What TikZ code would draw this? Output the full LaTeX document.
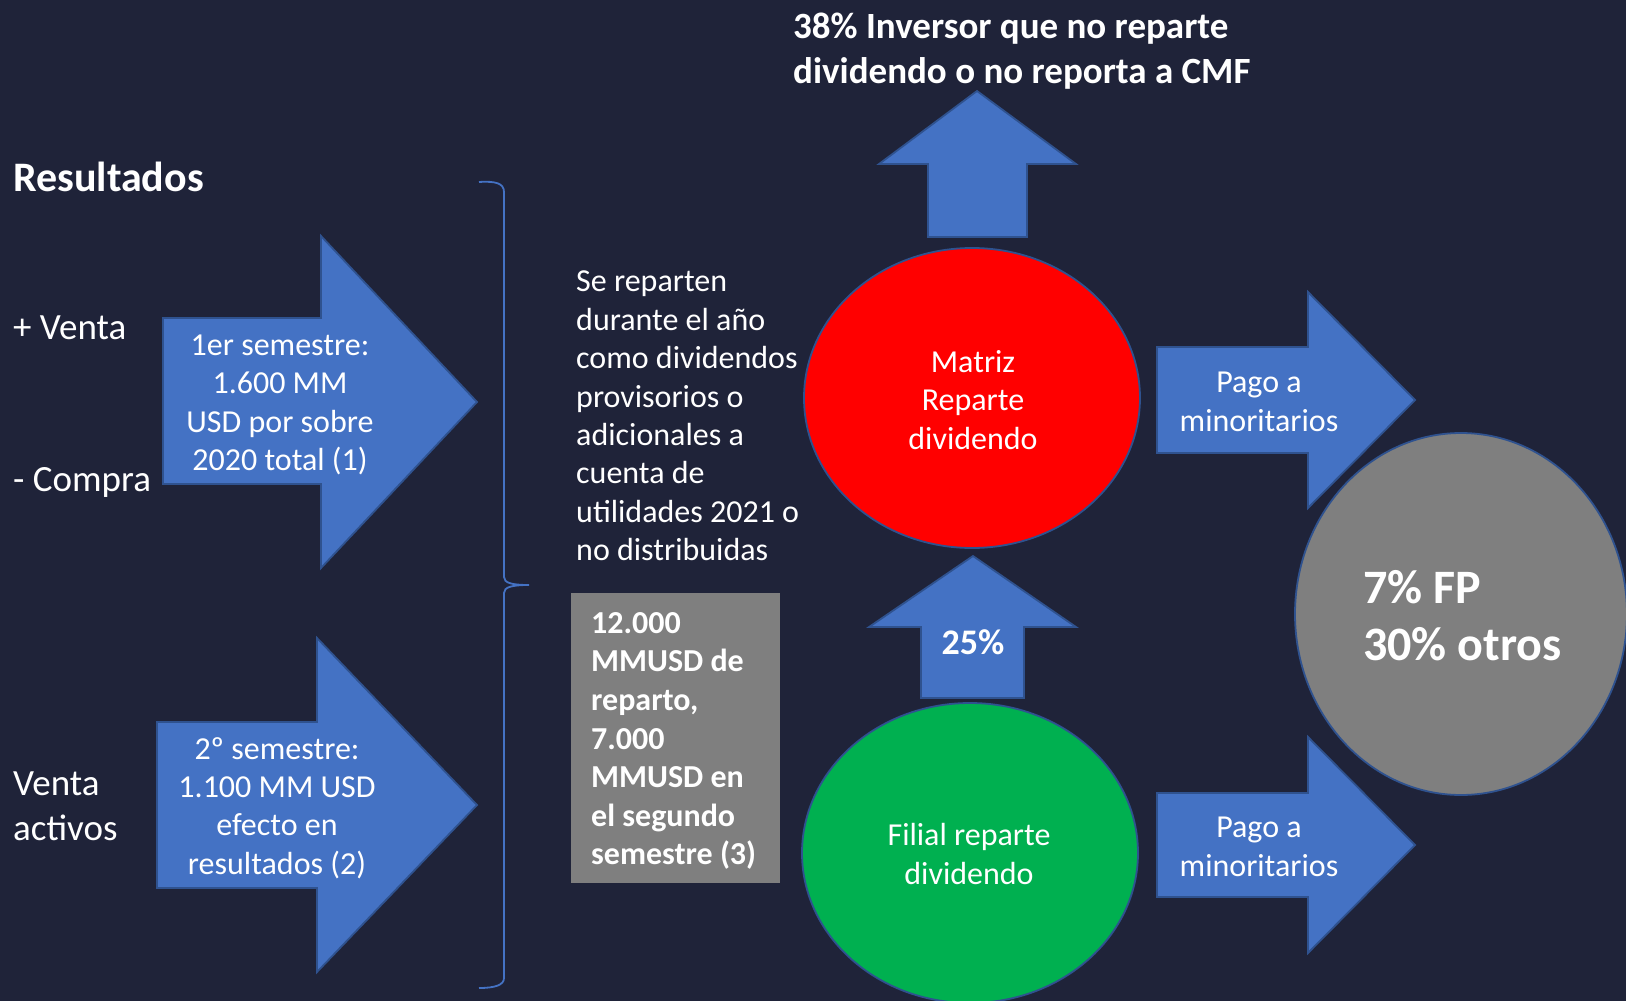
\documentclass[tikz,border=0pt]{standalone}
\usepackage{fontspec}
\setmainfont{Carlito}
\usetikzlibrary{shapes.geometric}
\definecolor{bgcol}{HTML}{1F2339}
\definecolor{arrowblue}{HTML}{4472C4}
\definecolor{edgeblue}{HTML}{2F528F}
\definecolor{boxgray}{HTML}{7F7F7F}
\definecolor{redfill}{HTML}{FF0000}
\definecolor{greenfill}{HTML}{00B050}
\tikzset{
  blockarrow/.style={fill=arrowblue, draw=edgeblue, line width=1.8pt, line join=miter},
  bubble/.style={ellipse, draw=edgeblue, line width=1.8pt, inner sep=0pt},
  txt/.style={text=white, inner sep=0pt, font=\fontsize{32}{38.4}\selectfont},
  txtb/.style={text=white, inner sep=0pt, font=\bfseries\fontsize{32}{38.6}\selectfont},
  sidelbl/.style={text=white, inner sep=0pt, font=\fontsize{37}{45}\selectfont},
}
\begin{document}
\begin{tikzpicture}[x=1pt,y=-1pt]
\useasboundingbox (0,0) rectangle (1626,1001);
\clip (0,0) rectangle (1626,1001);
\fill[bgcol] (0,0) rectangle (1626,1001);

% left labels
\node[anchor=base west, text=white, inner sep=0pt, font=\bfseries\fontsize{42}{50}\selectfont] (res) at (13,191) {Resultados};
\node[anchor=base west, sidelbl] (venta) at (13,339) {+ Venta};
\node[anchor=base west, sidelbl] (compra) at (13,491) {- Compra};
\node[anchor=west, sidelbl, align=left] (activos) at (13,806) {Venta\\activos};

% left block arrows
\draw[blockarrow] (163,318) -- (321,318) -- (321,236) -- (477,402) -- (321,568) -- (321,484) -- (163,484) -- cycle;
\node[txt, align=center] (sem1) at (280,405) {1er semestre:\\1.600 MM\\USD por sobre\\2020 total (1)};
\draw[blockarrow] (157,722) -- (317,722) -- (317,638) -- (477,805) -- (317,972) -- (317,888) -- (157,888) -- cycle;
\node[txt, align=center] (sem2) at (277,808) {2º semestre:\\1.100 MM USD\\efecto en\\resultados (2)};

% brace
\draw[arrowblue, line width=1.8pt] (479,182) .. controls (495,181) and (504,183) .. (504,192) -- (504,577)
  .. controls (504,583) and (512,585) .. (529,585)
  .. controls (512,585) and (504,587) .. (504,593) -- (504,978)
  .. controls (504,985) and (495,988) .. (479,988);

% middle texts
\node[txt, anchor=west, align=left] (reparten) at (576,416) {Se reparten\\durante el año\\como dividendos\\provisorios o\\adicionales a\\cuenta de\\utilidades 2021 o\\no distribuidas};
\fill[boxgray] (571,593) rectangle (780,883);
\node[txtb, anchor=west, align=left] (reparto) at (591,741) {12.000\\MMUSD de\\reparto,\\7.000\\MMUSD en\\el segundo\\semestre (3)};

% top arrow and title
\draw[blockarrow] (928,237) -- (928,164) -- (879,164) -- (977,91) -- (1076,164) -- (1027,164) -- (1027,237) -- cycle;
\node[anchor=west, text=white, inner sep=0pt, align=left, font=\bfseries\fontsize{37}{45}\selectfont] (inversor) at (793,51) {38\% Inversor que no reparte\\dividendo o no reporta a CMF};

% ellipses
\node[bubble, fill=redfill, minimum width=336pt, minimum height=300pt] (matriz) at (972,398) {};
\node[txt, align=center] (matriztxt) at (973,400) {Matriz\\Reparte\\dividendo};
\node[bubble, fill=greenfill, minimum width=336pt, minimum height=300pt] (filial) at (970,853) {};
\node[txt, align=center] (filialtxt) at (969,854) {Filial reparte\\dividendo};

% 25% arrow
\draw[blockarrow] (921,698) -- (921,627) -- (869,627) -- (973,556) -- (1076,627) -- (1024,627) -- (1024,698) -- cycle;
\node[text=white, inner sep=0pt, font=\bfseries\fontsize{36}{43}\selectfont] (pct) at (973,642) {25\%};

% right arrows
\draw[blockarrow] (1157,347) -- (1308,347) -- (1308,292) -- (1415,400) -- (1308,508) -- (1308,453) -- (1157,453) -- cycle;
\node[txt, align=center] (pago1) at (1259,402) {Pago a\\minoritarios};
\draw[blockarrow] (1157,793) -- (1308,793) -- (1308,737) -- (1415,845) -- (1308,953) -- (1308,897) -- (1157,897) -- cycle;
\node[txt, align=center] (pago2) at (1259,847) {Pago a\\minoritarios};

% gray circle
\node[bubble, fill=boxgray, minimum width=332pt, minimum height=362pt] (fp) at (1461,614) {};
\node[anchor=west, text=white, inner sep=0pt, align=left, font=\bfseries\fontsize{48}{57}\selectfont] (fptxt) at (1363,616) {7\% FP\\30\% otros};
\end{tikzpicture}
\end{document}
